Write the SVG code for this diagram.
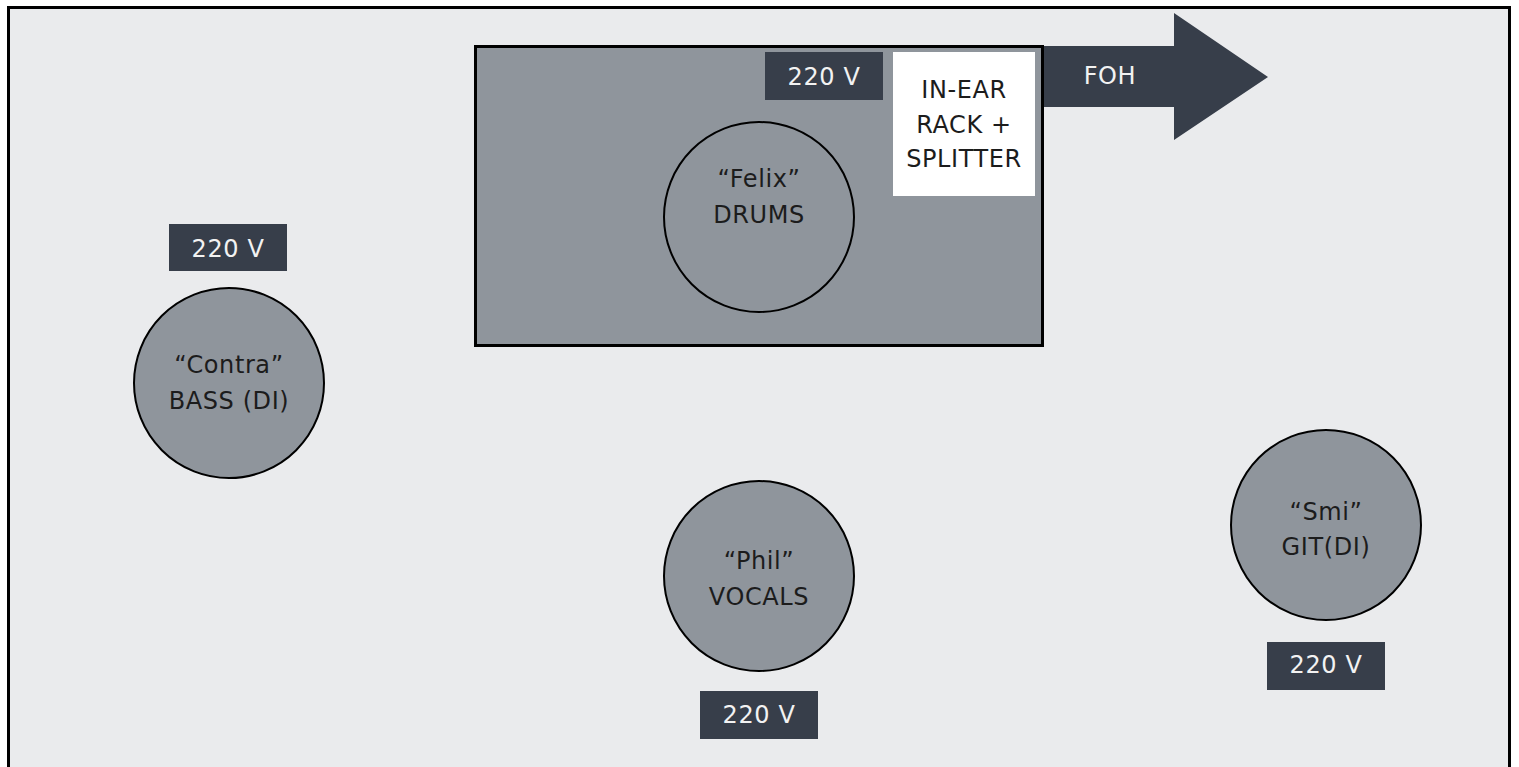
<svg xmlns="http://www.w3.org/2000/svg" width="1519" height="767" viewBox="0 0 1519 767">
<style>
.t{font-family:"DejaVu Sans","Noto Sans","Liberation Sans",sans-serif;font-size:24px;text-anchor:middle;letter-spacing:0.6px}
.dk{fill:#1c1c1c}
.wt{fill:#f2f2f2}
.p{fill:#373e4a}
.c{fill:#8f959c;stroke:#000;stroke-width:2}
</style>
<rect width="1519" height="767" fill="#ffffff"/>
<rect x="8.5" y="7.5" width="1501" height="780" fill="#eaebed" stroke="#000" stroke-width="3"/>
<g id="riser">
<rect x="475.5" y="46.5" width="567" height="299" fill="#8f959c" stroke="#000" stroke-width="3"/>
</g>
<g id="foh">
<path d="M1044,46 L1174,46 L1174,13 L1268,77 L1174,140 L1174,107 L1044,107 Z" class="p"/>
<text class="t wt" x="1110" y="84">FOH</text>
</g>
<g id="power-drums">
<rect x="765" y="52" width="118" height="48" class="p"/>
<text class="t wt" x="824" y="85">220 V</text>
</g>
<g id="inear">
<rect x="893" y="52" width="142" height="144" fill="#ffffff"/>
<text class="t dk" x="964" y="98">IN-EAR</text>
<text class="t dk" x="964" y="133">RACK +</text>
<text class="t dk" x="964" y="167">SPLITTER</text>
</g>
<g id="drums">
<circle cx="759" cy="217" r="95" class="c"/>
<text class="t dk" x="759" y="187">“Felix”</text>
<text class="t dk" x="759" y="223">DRUMS</text>
</g>
<g id="power-bass">
<rect x="169" y="224" width="118" height="47" class="p"/>
<text class="t wt" x="228" y="257">220 V</text>
</g>
<g id="bass">
<circle cx="229" cy="383" r="95" class="c"/>
<text class="t dk" x="229" y="373">“Contra”</text>
<text class="t dk" x="229" y="409">BASS (DI)</text>
</g>
<g id="vocals">
<circle cx="759" cy="576" r="95" class="c"/>
<text class="t dk" x="759" y="569">“Phil”</text>
<text class="t dk" x="759" y="605">VOCALS</text>
</g>
<g id="power-vocals">
<rect x="700" y="691" width="118" height="48" class="p"/>
<text class="t wt" x="759" y="723">220 V</text>
</g>
<g id="guitar">
<circle cx="1326" cy="525" r="95" class="c"/>
<text class="t dk" x="1326" y="520">“Smi”</text>
<text class="t dk" x="1326" y="555">GIT(DI)</text>
</g>
<g id="power-guitar">
<rect x="1267" y="642" width="118" height="48" class="p"/>
<text class="t wt" x="1326" y="673">220 V</text>
</g>
<g id="connectors"></g>
</svg>
